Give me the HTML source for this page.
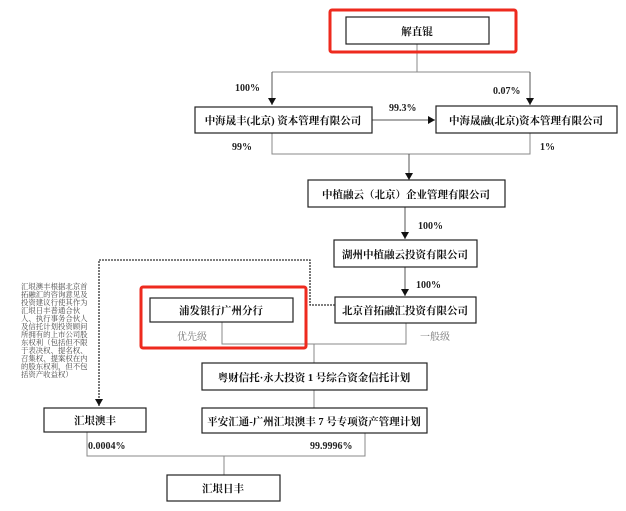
<!DOCTYPE html>
<html><head><meta charset="utf-8"><style>
body{margin:0;background:#fff}
svg{display:block}
text{font-family:"Liberation Serif","Noto Serif CJK SC","Noto Sans CJK SC",serif;}
.b{font-weight:bold;font-size:10.5px;fill:#111}
.p{font-weight:bold;font-size:10px;fill:#222}
.s{font-size:7.4px;fill:#444}
.g{font-size:10px;fill:#777}
</style></head><body>
<svg width="626" height="511" viewBox="0 0 626 511" xmlns="http://www.w3.org/2000/svg">
<defs><marker id="a" markerWidth="8" markerHeight="8" refX="7" refY="4" orient="auto" markerUnits="userSpaceOnUse"><path d="M0,0 L7,4 L0,8z" fill="#111"/></marker></defs>
<g fill="none" stroke="#888" stroke-width="1">
<path d="M417,44V72M272,72H530"/>
<path d="M272,72V105" stroke="#555" marker-end="url(#a)"/>
<path d="M530,72V105" stroke="#555" marker-end="url(#a)"/>
<path d="M372,120H435" stroke="#555" marker-end="url(#a)"/>
<path d="M272,133V154H530V133"/>
<path d="M409,154V180" stroke="#555" marker-end="url(#a)"/>
<path d="M405,207V239" stroke="#555" marker-end="url(#a)"/>
<path d="M405,267V296" stroke="#555" marker-end="url(#a)"/>
<path d="M222,322V344H406V323M314,344V363M314,390V408"/>
<path d="M87,432V456H365V433M224,456V475"/>
<path d="M335,305H310V260H99V406" stroke="#333" stroke-width="1.3" stroke-dasharray="2,1" marker-end="url(#a)"/>
</g>
<g fill="#fff" stroke="#222" stroke-width="1.2">
<rect x="346" y="17" width="143" height="27"/>
<rect x="195" y="107" width="177" height="26"/>
<rect x="436" y="106" width="181" height="27"/>
<rect x="308" y="180" width="197" height="27"/>
<rect x="334" y="240" width="143" height="27"/>
<rect x="335" y="297" width="141" height="26"/>
<rect x="150" y="298" width="143" height="24"/>
<rect x="202" y="363" width="225" height="27"/>
<rect x="202" y="408" width="225" height="25"/>
<rect x="44" y="408" width="102" height="24"/>
<rect x="167" y="475" width="113" height="26"/>
</g>
<g fill="none" stroke="#ee2a1e" stroke-width="3">
<rect x="330" y="10" width="186" height="42" rx="2"/>
<rect x="141" y="287" width="165" height="61" rx="2"/>
</g>
<g class="b" text-anchor="middle">
<text x="417" y="35">解直锟</text>
<text x="283" y="124">中海晟丰(北京) 资本管理有限公司</text>
<text x="526" y="124">中海晟融(北京)资本管理有限公司</text>
<text x="406" y="198">中植融云（北京）企业管理有限公司</text>
<text x="405" y="258">湖州中植融云投资有限公司</text>
<text x="405" y="314">北京首拓融汇投资有限公司</text>
<text x="221" y="314">浦发银行广州分行</text>
<text x="314" y="381">粤财信托·永大投资 1 号综合资金信托计划</text>
<text x="314" y="425">平安汇通-广州汇垠澳丰 7 号专项资产管理计划</text>
<text x="95" y="424">汇垠澳丰</text>
<text x="223" y="492">汇垠日丰</text>
</g>
<g class="p">
<text x="235" y="91">100%</text>
<text x="493" y="94">0.07%</text>
<text x="389" y="111">99.3%</text>
<text x="232" y="150">99%</text>
<text x="540" y="150">1%</text>
<text x="418" y="229">100%</text>
<text x="416" y="288">100%</text>
<text x="88" y="449">0.0004%</text>
<text x="310" y="449">99.9996%</text>
</g>
<text class="g" x="177" y="340">优先级</text>
<text class="g" x="420" y="340">一般级</text>
<g class="s">
<text x="21" y="289">汇垠澳丰根据北京首</text>
<text x="21" y="297">拓融汇的咨询意见及</text>
<text x="21" y="305">投资建议行使其作为</text>
<text x="21" y="313">汇垠日丰普通合伙</text>
<text x="21" y="321">人、执行事务合伙人</text>
<text x="21" y="329">及信托计划投资顾问</text>
<text x="21" y="337">所拥有的上市公司股</text>
<text x="21" y="345">东权利（包括但不限</text>
<text x="21" y="353">于表决权、提名权、</text>
<text x="21" y="361">召集权、提案权在内</text>
<text x="21" y="369">的股东权利，但不包</text>
<text x="21" y="377">括资产收益权）</text>
</g>
</svg>
</body></html>
